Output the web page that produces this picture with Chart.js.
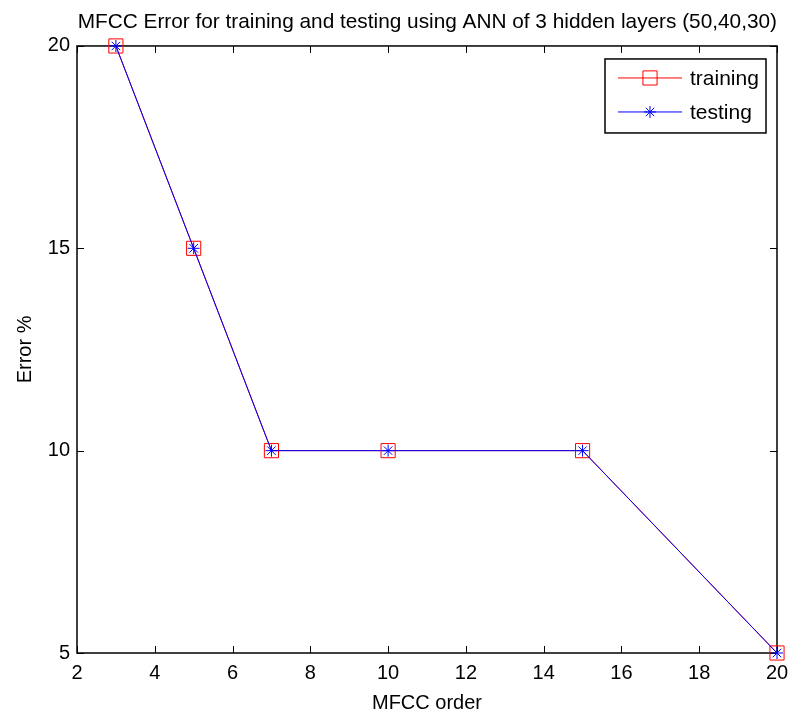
<!DOCTYPE html>
<html>
<head>
<meta charset="utf-8">
<script src="https://cdn.jsdelivr.net/npm/chart.js@4/dist/chart.umd.min.js"></script>
<style>
  html, body { margin: 0; padding: 0; background: #fff; }
</style>
</head>
<body>
<canvas id="myChart" width="791" height="715"></canvas>
<script>
// values
const mfccOrder = [3, 5, 7, 10, 15, 20];
const trainingError = [20, 15, 10, 10, 10, 5];
const testingError = [20, 15, 10, 10, 10, 5];
const seriesNames = ['training', 'testing'];
const xTickValues = [2, 4, 6, 8, 10, 12, 14, 16, 18, 20];
const yTickValues = [5, 10, 15, 20];

const FONT = "'Liberation Sans', Arial, sans-serif";

const toPoints = (xs, ys) => xs.map((x, i) => ({ x: x, y: ys[i] }));

// matlab style box with inward ticks on all four sides
const boxPlugin = {
  id: 'box',
  beforeDatasetsDraw(chart) {
    const { ctx, chartArea: a, scales } = chart;
    const len = 7;
    ctx.save();
    ctx.strokeStyle = '#000';
    ctx.lineWidth = 1.5;
    ctx.strokeRect(a.left, a.top, a.right - a.left, a.bottom - a.top);
    ctx.lineWidth = 1;
    ctx.beginPath();
    xTickValues.forEach((v) => {
      const px = Math.round(scales.x.getPixelForValue(v)) + 0.5;
      ctx.moveTo(px, a.bottom); ctx.lineTo(px, a.bottom - len);
      ctx.moveTo(px, a.top); ctx.lineTo(px, a.top + len);
    });
    yTickValues.forEach((v) => {
      const py = Math.round(scales.y.getPixelForValue(v)) + 0.5;
      ctx.moveTo(a.left, py); ctx.lineTo(a.left + len, py);
      ctx.moveTo(a.right, py); ctx.lineTo(a.right - len, py);
    });
    ctx.stroke();
    ctx.restore();
  }
};

function drawMarker(ctx, style, x, y, r) {
  ctx.beginPath();
  if (style === 'rect') {
    const s = Math.SQRT1_2 * r;
    ctx.rect(x - s, y - s, 2 * s, 2 * s);
  } else {
    const d = Math.SQRT1_2 * r;
    ctx.moveTo(x - r, y); ctx.lineTo(x + r, y);
    ctx.moveTo(x, y - r); ctx.lineTo(x, y + r);
    ctx.moveTo(x - d, y - d); ctx.lineTo(x + d, y + d);
    ctx.moveTo(x - d, y + d); ctx.lineTo(x + d, y - d);
  }
  ctx.stroke();
}

const legendPlugin = {
  id: 'matlabLegend',
  afterDraw(chart) {
    const { ctx, chartArea: a } = chart;
    const bx = a.right - 172, by = a.top + 13, bw = 161, bh = 74;
    ctx.save();
    ctx.fillStyle = '#fff';
    ctx.fillRect(bx, by, bw, bh);
    ctx.strokeStyle = '#000';
    ctx.lineWidth = 1.5;
    ctx.strokeRect(bx, by, bw, bh);
    chart.data.datasets.forEach((ds, i) => {
      const y = by + 19 + i * 34;
      ctx.strokeStyle = ds.borderColor;
      ctx.lineWidth = 1;
      ctx.beginPath();
      ctx.moveTo(bx + 13, y); ctx.lineTo(bx + 77, y);
      ctx.stroke();
      drawMarker(ctx, ds.pointStyle, bx + 45, y, ds.pointRadius);
      ctx.fillStyle = '#000';
      ctx.font = '21px ' + FONT;
      ctx.textBaseline = 'middle';
      ctx.fillText(ds.label, bx + 85, y + 1);
    });
    ctx.restore();
  }
};

const ctx = document.getElementById('myChart').getContext('2d');

new Chart(ctx, {
  type: 'line',
  data: {
    datasets: [{
      label: seriesNames[0],
      data: toPoints(mfccOrder, trainingError),
      order: 2,
      borderColor: '#ff0000',
      borderWidth: 1,
      pointStyle: 'rect',
      pointRadius: 10,
      pointBorderWidth: 1,
      pointBackgroundColor: 'rgba(0,0,0,0)',
      pointBorderColor: '#ff0000',
      tension: 0,
      clip: false
    }, {
      label: seriesNames[1],
      data: toPoints(mfccOrder, testingError),
      order: 1,
      borderColor: '#0000ff',
      borderWidth: 1,
      pointStyle: 'star',
      pointRadius: 6,
      pointBorderWidth: 1,
      pointBackgroundColor: 'rgba(0,0,0,0)',
      pointBorderColor: '#0000ff',
      tension: 0,
      clip: false
    }]
  },
  options: {
    responsive: false,
    animation: false,
    layout: { padding: { right: 14, left: 0, top: 0, bottom: 0 } },
    plugins: {
      legend: { display: false },
      tooltip: { enabled: false },
      title: {
        display: true,
        align: 'end',
        text: 'MFCC Error for training and testing using ANN of 3 hidden layers (50,40,30)',
        color: '#000',
        font: { family: FONT, size: 20.8, weight: 'normal' },
        padding: { top: 10, bottom: 11 }
      }
    },
    scales: {
      x: {
        type: 'linear',
        min: 2,
        max: 20,
        grid: { display: false, drawTicks: false },
        border: { display: false },
        ticks: {
          stepSize: 2,
          color: '#000',
          padding: 8,
          maxRotation: 0,
          font: { family: FONT, size: 20 }
        },
        title: {
          display: true,
          text: 'MFCC order',
          color: '#000',
          font: { family: FONT, size: 20 },
          padding: { top: 2, bottom: 0 }
        },
        afterFit(scale) {
          scale.height = 62;
          scale.paddingLeft = 0;
          scale.paddingRight = 0;
        }
      },
      y: {
        type: 'linear',
        min: 5,
        max: 20,
        grid: { display: false, drawTicks: false },
        border: { display: false },
        ticks: {
          stepSize: 5,
          color: '#000',
          padding: 7,
          font: { family: FONT, size: 20 }
        },
        title: {
          display: true,
          text: 'Error %',
          color: '#000',
          font: { family: FONT, size: 20 },
          padding: { top: 13, bottom: 0 }
        },
        afterFit(scale) {
          scale.width = 77;
          scale.paddingTop = 0;
          scale.paddingBottom = 0;
        }
      }
    }
  },
  plugins: [boxPlugin, legendPlugin]
});
</script>
</body>
</html>
